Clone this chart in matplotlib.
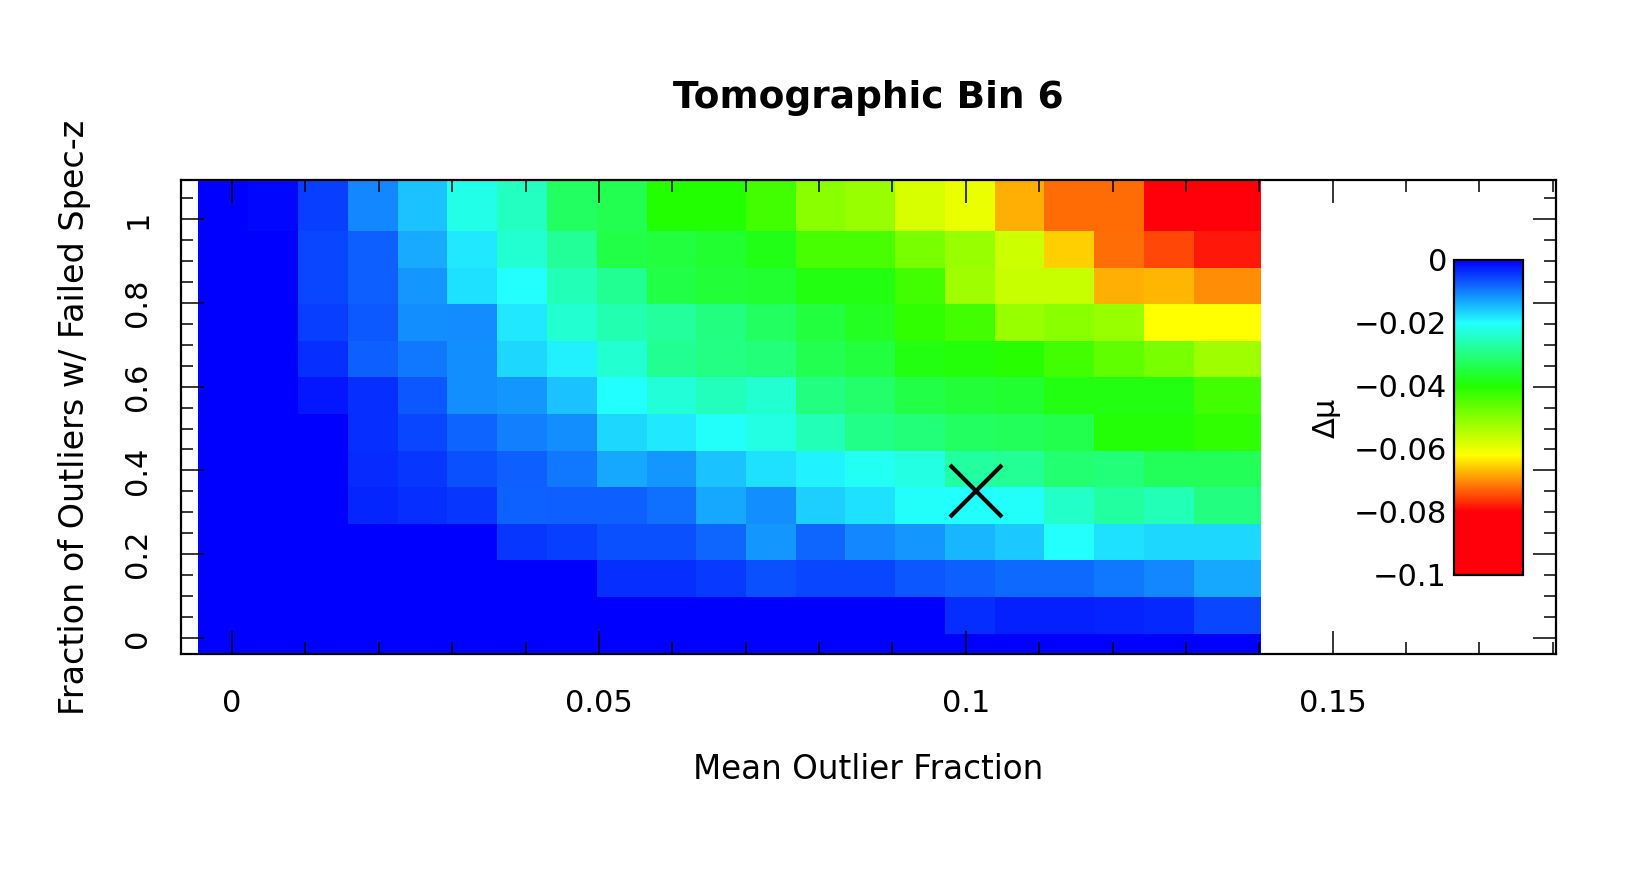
import numpy as np
import matplotlib
matplotlib.use("Agg")
import matplotlib.pyplot as plt
from matplotlib.colors import LinearSegmentedColormap
from matplotlib.ticker import MultipleLocator, FixedLocator, FixedFormatter

plt.rcParams['font.family'] = ['DejaVu Sans']

# ---------------- data ----------------
title = "Tomographic Bin 6"
x_label = "Mean Outlier Fraction"
y_label = "Fraction of Outliers w/ Failed Spec-z"
cbar_label = "Δμ"

# cell edges of the grid (data coordinates)
x_edges = [-0.0046, 0.0022, 0.0090, 0.0158, 0.0226, 0.0293, 0.0361, 0.0429,
           0.0497, 0.0565, 0.0633, 0.0700, 0.0768, 0.0836, 0.0904, 0.0972,
           0.1040, 0.1107, 0.1175, 0.1243, 0.1311, 0.1402]
y_edges = [-0.0768, 0.0105, 0.0978, 0.1852, 0.2725, 0.3599, 0.4472, 0.5345,
           0.6219, 0.7092, 0.7966, 0.8839, 0.9712, 1.12]

# delta mu values, rows from bottom to top, 21 columns each
row00 = [0, 0, 0, 0, 0, 0, 0, 0, 0, 0, 0, 0, 0, 0, 0, 0, 0, 0, 0, 0, 0]
row01 = [0, 0, 0, 0, 0, 0, 0, 0, 0, 0, 0, 0, 0, 0, 0,
         -0.0036, -0.0027, -0.0027, -0.0028, -0.0032, -0.0056]
row02 = [0, 0, 0, 0, 0, 0, 0, 0, -0.0038, -0.0038, -0.0045, -0.0063, -0.0056,
         -0.0056, -0.0069, -0.0075, -0.0083, -0.0083, -0.0094, -0.0107, -0.0132]
row03 = [0, 0, 0, 0, 0, 0, -0.0044, -0.0050, -0.0063, -0.0063, -0.0082, -0.0119,
         -0.0082, -0.0107, -0.0119, -0.0144, -0.0157, -0.0202, -0.0176, -0.0169, -0.0169]
row04 = [0, 0, 0, -0.0031, -0.0038, -0.0044, -0.0078, -0.0075, -0.0075, -0.0088,
         -0.0132, -0.0113, -0.0163, -0.0176, -0.0205, -0.0200, -0.0205, -0.0243,
         -0.0275, -0.0256, -0.0300]
row05 = [0, 0, 0, -0.0035, -0.0044, -0.0063, -0.0075, -0.0094, -0.0132, -0.0119,
         -0.0154, -0.0176, -0.0191, -0.0210, -0.0224, -0.0275, -0.0284, -0.0312,
         -0.0306, -0.0331, -0.0331]
row06 = [0, 0, 0, -0.0038, -0.0056, -0.0080, -0.0100, -0.0113, -0.0169, -0.0182,
         -0.0205, -0.0224, -0.0256, -0.0293, -0.0306, -0.0325, -0.0330, -0.0340,
         -0.0395, -0.0395, -0.0414]
row07 = [0, 0, -0.0019, -0.0038, -0.0069, -0.0113, -0.0119, -0.0154, -0.0200,
         -0.0231, -0.0252, -0.0237, -0.0300, -0.0318, -0.0344, -0.0356, -0.0362,
         -0.0387, -0.0387, -0.0387, -0.0430]
row08 = [0, 0, -0.0038, -0.0075, -0.0094, -0.0113, -0.0169, -0.0188, -0.0237,
         -0.0287, -0.0297, -0.0306, -0.0337, -0.0350, -0.0387, -0.0394, -0.0406,
         -0.0430, -0.0462, -0.0486, -0.0525]
row09 = [0, 0, -0.0050, -0.0072, -0.0113, -0.0110, -0.0182, -0.0237, -0.0262,
         -0.0278, -0.0300, -0.0325, -0.0350, -0.0375, -0.0414, -0.0430, -0.0517,
         -0.0502, -0.0517, -0.0620, -0.0620]
row10 = [0, 0, -0.0056, -0.0075, -0.0119, -0.0176, -0.0202, -0.0256, -0.0287,
         -0.0344, -0.0356, -0.0362, -0.0387, -0.0387, -0.0430, -0.0525, -0.0565,
         -0.0565, -0.0676, -0.0670, -0.0701]
row11 = [0, 0, -0.0056, -0.0075, -0.0133, -0.0182, -0.0237, -0.0281, -0.0344,
         -0.0350, -0.0362, -0.0381, -0.0438, -0.0438, -0.0486, -0.0517, -0.0569,
         -0.0653, -0.0721, -0.0749, -0.0783]
row12 = [0, -0.0006, -0.0050, -0.0107, -0.0154, -0.0218, -0.0249, -0.0325, -0.0337,
         -0.0400, -0.0400, -0.0430, -0.0502, -0.0517, -0.0581, -0.0599, -0.0676,
         -0.0724, -0.0724, -0.0850, -0.0850]

# marked point
mark_x = [0.1014]
mark_y = [0.3506]

x_ticks = [0, 0.05, 0.1, 0.15]
x_ticklabels = ["0", "0.05", "0.1", "0.15"]
y_ticks = [0, 0.2, 0.4, 0.6, 0.8, 1.0]
y_ticklabels = ["0", "0.2", "0.4", "0.6", "0.8", "1"]
cb_ticks = [0, -0.02, -0.04, -0.06, -0.08, -0.1]
cb_ticklabels = ["0", "\u22120.02", "\u22120.04", "\u22120.06", "\u22120.08", "\u22120.1"]

# ---------------- colormap ----------------
cmap = LinearSegmentedColormap.from_list(
    "dmu",
    [(0.00, (1.0, 0.0, 0.04)),
     (0.20, (1.0, 0.0, 0.04)),
     (0.38, (1.0, 1.0, 0.0)),
     (0.60, (0.133, 1.0, 0.0)),
     (0.80, (0.133, 1.0, 1.0)),
     (1.00, (0.0, 0.0, 1.0))], N=512)

Z = np.array([row00, row01, row02, row03, row04, row05, row06, row07,
              row08, row09, row10, row11, row12])

# ---------------- figure ----------------
fig = plt.figure(figsize=(16.5, 8.8), dpi=100)
fig.patch.set_facecolor("white")
ax = fig.add_axes([0.1095, 0.2563, 0.8338, 0.5392])

mesh = ax.pcolormesh(x_edges, y_edges, Z, cmap=cmap, vmin=-0.1, vmax=0,
                     shading="flat", edgecolors="none", antialiased=False)
ax.plot(mark_x, mark_y, linestyle="none", marker="x", color="black",
        markersize=37, markeredgewidth=3)

ax.set_xlim(-0.007, 0.1805)
ax.set_ylim(-0.039, 1.093)

ax.xaxis.set_major_locator(FixedLocator(x_ticks))
ax.xaxis.set_major_formatter(FixedFormatter(x_ticklabels))
ax.xaxis.set_minor_locator(MultipleLocator(0.01))
ax.yaxis.set_major_locator(FixedLocator(y_ticks))
ax.yaxis.set_major_formatter(FixedFormatter(y_ticklabels))
ax.yaxis.set_minor_locator(MultipleLocator(0.05))

ax.tick_params(which="both", direction="in", top=True, right=True,
               width=1.1, color="black")
ax.tick_params(which="major", length=16.5)
ax.tick_params(which="minor", length=8.5)
ax.tick_params(axis="x", which="major", labelsize=22, pad=25)
ax.tick_params(axis="y", which="major", labelsize=22, pad=20.5)
for lab in ax.get_yticklabels():
    lab.set_rotation(90)
    lab.set_va("center")
    lab.set_ha("right")

for sp in ax.spines.values():
    sp.set_linewidth(1.6)

ax.set_title(title, fontsize=27, fontweight="bold", pad=52)
ax.set_xlabel(x_label, fontsize=23.5, labelpad=25)
ax.set_ylabel(y_label, fontsize=24, labelpad=23)

# colorbar inside the plot area
cax = fig.add_axes([0.8812, 0.3466, 0.0418, 0.358])
cb = fig.colorbar(mesh, cax=cax, ticks=cb_ticks)
cb.ax.set_yticklabels(cb_ticklabels)
cax.yaxis.set_ticks_position("left")
cax.yaxis.set_label_position("left")
cax.tick_params(length=0, pad=5, labelsize=22)
cb.outline.set_linewidth(1.6)
cb.set_label(cbar_label, fontsize=22, labelpad=9)

fig.savefig("out.png", dpi=100, facecolor="white")
